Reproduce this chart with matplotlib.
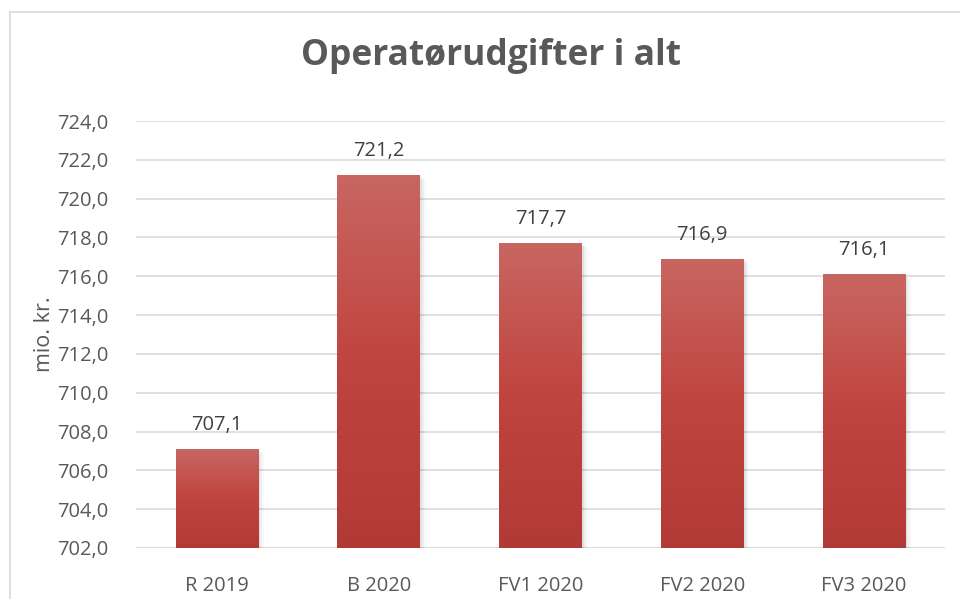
import matplotlib
matplotlib.use("Agg")
import matplotlib.pyplot as plt
import numpy as np
from matplotlib.colors import LinearSegmentedColormap
from matplotlib.patches import Rectangle

categories = ["R 2019", "B 2020", "FV1 2020", "FV2 2020", "FV3 2020"]
values = [707.1, 721.2, 717.7, 716.9, 716.1]
y_ticks = [702, 704, 706, 708, 710, 712, 714, 716, 718, 720, 722, 724]
title = "Operatørudgifter i alt"
y_label = "mio. kr."

plt.rcParams['font.family'] = ['Open Sans', 'DejaVu Sans']
TXT = "#595959"

fig = plt.figure(figsize=(9.6, 5.99), dpi=100)
ax = fig.add_axes([136/960, 1-548/599, (945-136)/960, (548-121)/599])

bottom = y_ticks[0]
x = np.arange(len(categories))
bars = ax.bar(x, [v - bottom for v in values], bottom=bottom, width=0.51,
              color="#BE4743", zorder=3, linewidth=0)

cmap = LinearSegmentedColormap.from_list("g", ["#B23A36", "#C0443F", "#C86662"])
grad = np.linspace(0, 1, 256).reshape(-1, 1)
for b in bars:
    x0, y0 = b.get_x(), b.get_y()
    w, h = b.get_width(), b.get_height()
    # soft shadow
    for i, a in enumerate([0.06, 0.04, 0.025]):
        d = 0.012 * (i + 1)
        sh = Rectangle((x0 + d, y0 - 0.0), w, h - d * 6, facecolor="black",
                       alpha=a, zorder=2, linewidth=0)
        ax.add_patch(sh)
    im = ax.imshow(grad, extent=[x0, x0 + w, y0, y0 + h], origin="lower",
                   cmap=cmap, aspect="auto", zorder=4)
    im.set_clip_path(b)
    ax.annotate(f"{b.get_y() + h:.1f}".replace(".", ","),
                (x0 + w / 2, y0 + h), xytext=(0, 10), textcoords="offset points",
                ha="center", va="bottom", fontsize=14.5, color="#404040", zorder=5)

ax.set_xlim(-0.5, len(categories) - 0.5)
ax.set_ylim(y_ticks[0], y_ticks[-1])
ax.set_yticks(y_ticks)
ax.set_yticklabels([f"{t:.1f}".replace(".", ",") for t in y_ticks],
                   fontsize=14.5, color=TXT)
ax.set_xticks(x)
ax.set_xticklabels(categories, fontsize=14.5, color=TXT)
ax.tick_params(axis="y", length=0, pad=20)
ax.tick_params(axis="x", length=0, pad=20)
ax.yaxis.grid(True, color="#D9D9D9", linewidth=1.2, zorder=0)
ax.set_axisbelow(True)
for s in ax.spines.values():
    s.set_visible(False)
ax.axhline(y_ticks[0], color="#D9D9D9", linewidth=1.2, zorder=1)

ax.set_ylabel(y_label, fontsize=15.5, color=TXT)
ax.yaxis.set_label_coords(-(136 - 55) / (945 - 136), 0.50)

fig.text(491/960, 1 - 56/599, title, ha="center", va="center", fontsize=25.5,
         fontweight="bold", color=TXT)

# chart border
fig.add_artist(plt.Line2D([10/960, 10/960], [0, 1 - 12/599], color="#D9D9D9",
                          linewidth=1.2, transform=fig.transFigure))
fig.add_artist(plt.Line2D([10/960, 1], [1 - 12/599, 1 - 12/599], color="#D9D9D9",
                          linewidth=1.2, transform=fig.transFigure))

fig.savefig("out.png", dpi=100)
